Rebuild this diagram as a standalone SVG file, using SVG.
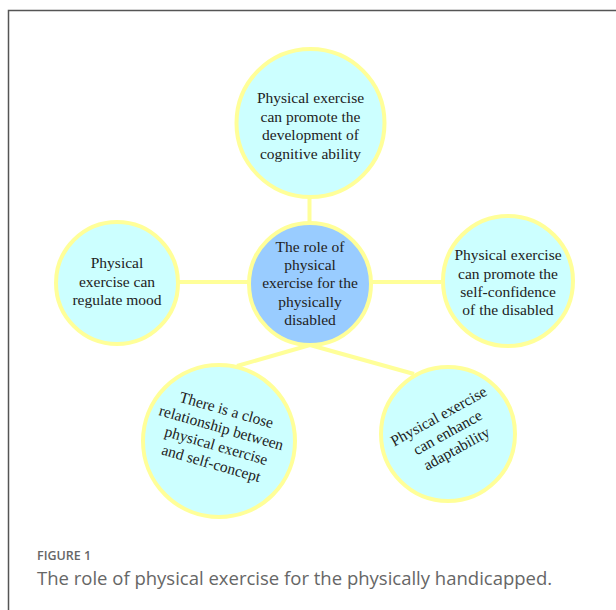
<svg xmlns="http://www.w3.org/2000/svg" width="616" height="610" viewBox="0 0 616 610">
<style>
.frame{fill:none;stroke:#555;stroke-width:1.5}
.node{fill:#CCFFFF;stroke:#FFFF99;stroke-width:4}
.hub{fill:#99CCFF;stroke:#FFFF99;stroke-width:4}
.conn{stroke:#FFFF99;stroke-width:4;fill:none}
.t{font-family:"Liberation Serif","Times New Roman",serif;font-size:15.5px;fill:#222;text-anchor:middle}
.cap1{font-family:"Open Sans","Liberation Sans",sans-serif;font-size:12.5px;font-weight:600;fill:#666}
.cap2{font-family:"Open Sans","Liberation Sans",sans-serif;font-size:18.5px;fill:#666}
</style>
<rect width="616" height="610" fill="#fff"/>
<path class="frame" d="M8.5,620 V10.5 H620"/>
<g id="connectors">
<line class="conn" x1="309.5" y1="198" x2="309.5" y2="223"/>
<line class="conn" x1="178" y1="282" x2="249" y2="282"/>
<line class="conn" x1="371" y1="282" x2="441" y2="282"/>
<line class="conn" x1="310" y1="345" x2="237" y2="366"/>
<line class="conn" x1="310" y1="345" x2="414" y2="374"/>
</g>
<g id="n-top">
<circle class="node" cx="310.5" cy="123" r="74"/>
<text class="t" x="310.5" y="103">Physical exercise</text>
<text class="t" x="310.5" y="121.5">can promote the</text>
<text class="t" x="310.5" y="140">development of</text>
<text class="t" x="310.5" y="158.5">cognitive ability</text>
</g>
<g id="n-center">
<circle class="hub" cx="310" cy="284" r="61"/>
<text class="t" x="310" y="251.5">The role of</text>
<text class="t" x="310" y="270">physical</text>
<text class="t" x="310" y="288">exercise for the</text>
<text class="t" x="310" y="306.5">physically</text>
<text class="t" x="310" y="325">disabled</text>
</g>
<g id="n-left">
<circle class="node" cx="117" cy="283" r="61"/>
<text class="t" x="117" y="268">Physical</text>
<text class="t" x="117" y="286.5">exercise can</text>
<text class="t" x="117" y="305">regulate mood</text>
</g>
<g id="n-right">
<circle class="node" cx="508" cy="281" r="65"/>
<text class="t" x="508" y="260">Physical exercise</text>
<text class="t" x="508" y="278.5">can promote the</text>
<text class="t" x="508" y="297">self-confidence</text>
<text class="t" x="508" y="315">of the disabled</text>
</g>
<g id="n-bottom-left">
<circle class="node" cx="219" cy="441" r="76"/>
<g transform="rotate(16 219 436)">
<text class="t" x="219" y="414">There is a close</text>
<text class="t" x="219" y="432.5">relationship between</text>
<text class="t" x="219" y="451">physical exercise</text>
<text class="t" x="219" y="469.5">and self-concept</text>
</g>
</g>
<g id="n-bottom-right">
<circle class="node" cx="448" cy="434" r="67"/>
<g transform="rotate(-29 444 426)">
<text class="t" x="444" y="420">Physical exercise</text>
<text class="t" x="444" y="438.5">can enhance</text>
<text class="t" x="444" y="457">adaptability</text>
</g>
</g>
<text class="cap1" x="37" y="560">FIGURE 1</text>
<text class="cap2" x="37" y="585">The role of physical exercise for the physically handicapped.</text>
</svg>
